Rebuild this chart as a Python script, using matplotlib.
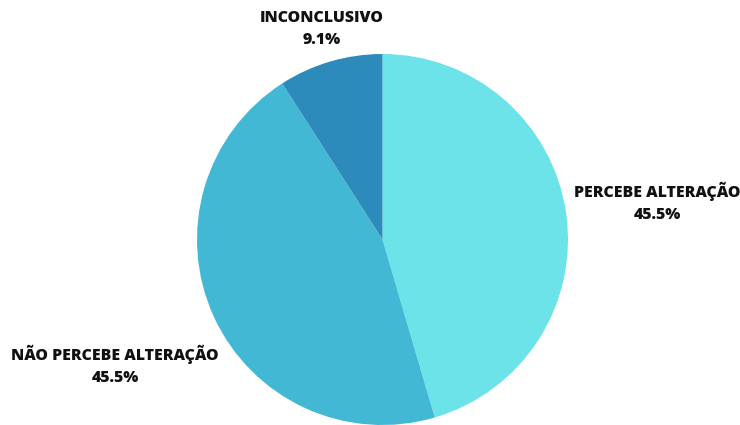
import matplotlib.pyplot as plt

categorias = ["PERCEBE ALTERAÇÃO", "NÃO PERCEBE ALTERAÇÃO", "INCONCLUSIVO"]
percentuais = [45.5, 45.5, 9.1]
cores = ["#6be3e8", "#43b8d5", "#2d8bbb"]

plt.rcParams["font.family"] = ["Open Sans", "DejaVu Sans"]

fig = plt.figure(figsize=(7.4, 4.25), dpi=100)
ax = fig.add_axes([0, 0, 1, 1])

ax.pie(percentuais, colors=cores, startangle=90, counterclock=False,
       center=(382.5, 185.5), radius=185.5, frame=True,
       wedgeprops=dict(linewidth=0))

ax.set_xlim(0, 740)
ax.set_ylim(0, 425)
ax.set_aspect("equal")
ax.axis("off")

# rótulos: nome + percentual (posições em pixels a partir do topo)
pos_rotulos = {
    "PERCEBE ALTERAÇÃO": (657, 202),
    "NÃO PERCEBE ALTERAÇÃO": (115, 365),
    "INCONCLUSIVO": (322, 29),
}
for nome, pct in zip(categorias, percentuais):
    x, y = pos_rotulos[nome]
    ax.text(x, 425 - y, f"{nome}\n{pct}%", ha="center", va="center",
            fontsize=11.4, fontweight=800, color="#111111",
            linespacing=1.5)

fig.savefig("out.png", dpi=100, facecolor="white")
